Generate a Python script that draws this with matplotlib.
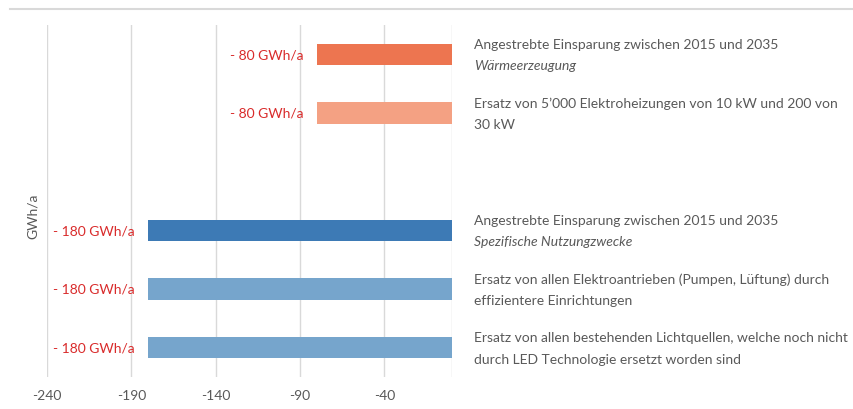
import matplotlib.pyplot as plt
from matplotlib.lines import Line2D

# categories top to bottom (position 2 is an empty gap)
values = [-80, -80, None, -180, -180, -180]
bar_colors = ['#ED7550', '#F4A183', None, '#3D7AB5', '#76A5CC', '#76A5CC']
value_labels = ['- 80 GWh/a', '- 80 GWh/a', '', '- 180 GWh/a', '- 180 GWh/a', '- 180 GWh/a']
line1 = ['Angestrebte Einsparung zwischen 2015 und 2035',
         'Ersatz von 5\u2019000 Elektroheizungen von 10 kW und 200 von',
         '',
         'Angestrebte Einsparung zwischen 2015 und 2035',
         'Ersatz von allen Elektroantrieben (Pumpen, L\u00fcftung) durch',
         'Ersatz von allen bestehenden Lichtquellen, welche noch nicht']
line2 = ['W\u00e4rmeerzeugung', '30 kW', '', 'Spezifische Nutzungzwecke',
         'effizientere Einrichtungen', 'durch LED Technologie ersetzt worden sind']
line2_italic = [True, False, False, True, False, False]
xticks = [-240, -190, -140, -90, -40]

plt.rcParams['font.family'] = ['Lato', 'DejaVu Sans']
plt.rcParams['axes.unicode_minus'] = False
grey = '#595959'
red = '#D92B2B'

fig = plt.figure(figsize=(8.54, 4.10), dpi=100)
ax = fig.add_axes([47/854, 1 - 378/410, 405/854, 352/410])

for i, v in enumerate(values):
    if v is None:
        continue
    ax.barh(i, v, height=0.36, color=bar_colors[i], zorder=3)
    ax.annotate(value_labels[i], (v, i), xytext=(-10, 0), textcoords='offset points',
                ha='right', va='center', color=red, fontsize=10)
    ax.annotate(line1[i], (1.0, i), xycoords=('axes fraction', 'data'),
                xytext=(16, 7.5), textcoords='offset points', ha='left', va='center',
                color=grey, fontsize=10, annotation_clip=False)
    ax.annotate(line2[i], (1.0, i), xycoords=('axes fraction', 'data'),
                xytext=(16, -8), textcoords='offset points', ha='left', va='center',
                color=grey, fontsize=10, annotation_clip=False,
                style='italic' if line2_italic[i] else 'normal')

ax.set_xlim(-240, 0)
ax.set_ylim(5.5, -0.5)
ax.set_xticks(xticks)
ax.set_yticks([])
ax.grid(axis='x', color='#D9D9D9', linewidth=1, zorder=0)
ax.axvline(0, color='#D9D9D9', linewidth=1, zorder=1)
for s in ax.spines.values():
    s.set_visible(False)
ax.tick_params(axis='x', length=0, labelcolor=grey, labelsize=10, pad=9)
ax.set_ylabel('GWh/a', color=grey, fontsize=10)
ax.yaxis.set_label_coords(-0.02, 0.46)

fig.add_artist(Line2D([10/854, 1], [1 - 10/410, 1 - 10/410], color='#D9D9D9', linewidth=1.5))

fig.savefig('out.png', dpi=100)
